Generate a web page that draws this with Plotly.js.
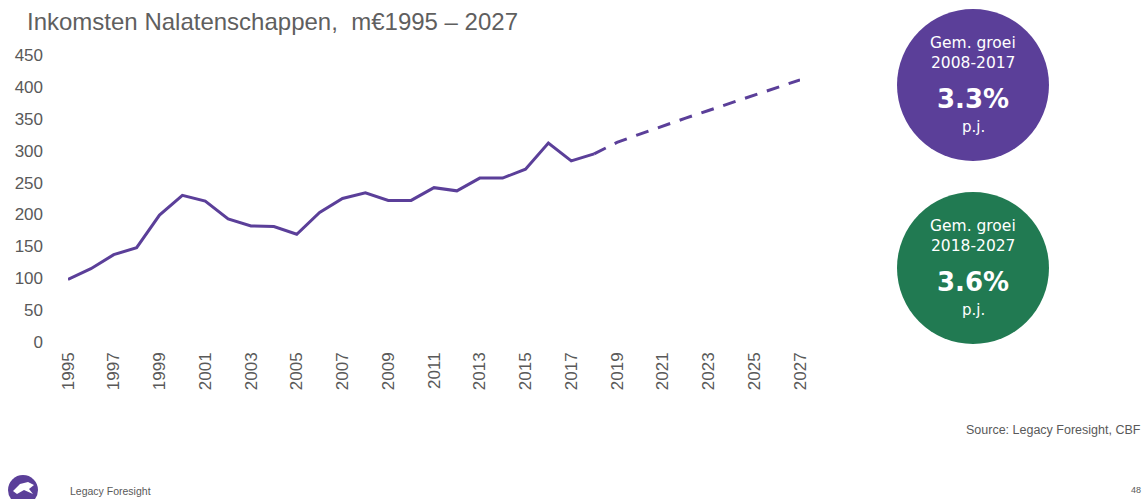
<!DOCTYPE html>
<html>
<head>
<meta charset="utf-8">
<script src="https://cdn.plot.ly/plotly-3.0.1.min.js"></script>
<style>html,body{margin:0;padding:0;background:#fff;}#chart{width:1146px;height:499px;}</style>
</head>
<body>
<div id="chart"></div>
<script>
// Data
const actualYears = [1995,1996,1997,1998,1999,2000,2001,2002,2003,2004,2005,2006,2007,2008,2009,2010,2011,2012,2013,2014,2015,2016,2017,2018];
const actualValues = [98,115,137,148,199,230,221,193,182,181,169,203,225,234,222,222,242,237,257,257,271,312,284,295];
const forecastYears = [2018,2019,2020,2021,2022,2023,2024,2025,2026,2027];
const forecastValues = [295,313,326,339,351,363,375,387,399,411];
const yTickValues = [0,50,100,150,200,250,300,350,400,450];
const xTickValues = [1995,1997,1999,2001,2003,2005,2007,2009,2011,2013,2015,2017,2019,2021,2023,2025,2027];
const titleText = "Inkomsten Nalatenschappen,  m€1995 – 2027";
const circle1Lines = ["Gem. groei","2008-2017","3.3%","p.j."];
const circle2Lines = ["Gem. groei","2018-2027","3.6%","p.j."];
const sourceText = "Source: Legacy Foresight, CBF";
const footerText = "Legacy Foresight";
const pageNumber = "48";

const purple = "#5B3F99";
const green = "#217A52";
const grey = "#595959";

const traces = [
  {x: actualYears, y: actualValues, type: 'scatter', mode: 'lines',
   line: {color: purple, width: 3}, hoverinfo: 'skip'},
  {x: forecastYears, y: forecastValues, type: 'scatter', mode: 'lines',
   line: {color: purple, width: 3, dash: '13px,10px'}, hoverinfo: 'skip'}
];

function circleText(lines, cy) {
  const fam = "DejaVu Sans, Verdana, sans-serif";
  const offs = [-42, -22, 14, 42];
  const sizes = [15.5, 15.5, 26, 15];
  return lines.map((t, i) => ({
    text: i === 2 ? '<b>' + t + '</b>' : t,
    xref: 'paper', yref: 'paper', showarrow: false,
    x: 0, y: 0, _px: 973, _py: cy + offs[i],
    font: {family: fam, size: sizes[i], color: '#ffffff'},
    xanchor: 'center', yanchor: 'middle'
  }));
}

const W = 1146, H = 499;
const m = {l: 68, r: 346, t: 55, b: 157};
const pw = W - m.l - m.r, ph = H - m.t - m.b;
function px2x(px) { return (px - m.l) / pw; }
function py2y(py) { return (H - m.b - py) / ph; }

let anns = [];
circleText(circle1Lines, 85).concat(circleText(circle2Lines, 268)).forEach(a => {
  a.x = px2x(a._px); a.y = py2y(a._py); delete a._px; delete a._py; anns.push(a);
});
anns.push({text: sourceText, xref: 'paper', yref: 'paper', x: px2x(1143), y: py2y(430),
  xanchor: 'right', yanchor: 'middle', showarrow: false,
  font: {family: 'Liberation Sans, Arial, sans-serif', size: 12.5, color: grey}});
anns.push({text: pageNumber, xref: 'paper', yref: 'paper', x: px2x(1143), y: py2y(490),
  xanchor: 'right', yanchor: 'middle', showarrow: false,
  font: {family: 'Liberation Sans, Arial, sans-serif', size: 9, color: grey}});
anns.push({text: footerText, xref: 'paper', yref: 'paper', x: px2x(68), y: py2y(491),
  xanchor: 'left', yanchor: 'middle', showarrow: false,
  font: {family: 'Liberation Sans, Arial, sans-serif', size: 10.5, color: grey}});

const shapes = [
  {type: 'circle', xref: 'paper', yref: 'paper', x0: px2x(897), x1: px2x(1049), y0: py2y(161), y1: py2y(9),
   fillcolor: purple, line: {width: 0}, layer: 'below'},
  {type: 'circle', xref: 'paper', yref: 'paper', x0: px2x(897), x1: px2x(1049), y0: py2y(344), y1: py2y(192),
   fillcolor: green, line: {width: 0}, layer: 'below'},
  {type: 'circle', xref: 'paper', yref: 'paper', x0: px2x(8), x1: px2x(38), y0: py2y(505), y1: py2y(475),
   fillcolor: purple, line: {width: 0}, layer: 'below'},
  {type: 'path', xref: 'paper', yref: 'paper',
   path: 'M ' + px2x(13) + ' ' + py2y(491) + ' L ' + px2x(20) + ' ' + py2y(484) + ' L ' + px2x(28) + ' ' + py2y(482) +
         ' L ' + px2x(34) + ' ' + py2y(485) + ' L ' + px2x(29) + ' ' + py2y(489) + ' L ' + px2x(33) + ' ' + py2y(494) +
         ' L ' + px2x(24) + ' ' + py2y(490) + ' L ' + px2x(17) + ' ' + py2y(494) + ' Z',
   fillcolor: '#ffffff', line: {width: 0}}
];

const layout = {
  width: W, height: H,
  margin: m,
  paper_bgcolor: '#ffffff', plot_bgcolor: '#ffffff',
  showlegend: false,
  title: {text: titleText, xref: 'container', yref: 'container', x: 27 / W, xanchor: 'left',
          y: 1 - 22 / H, yanchor: 'middle',
          font: {family: 'Liberation Sans, Arial, sans-serif', size: 24, color: '#5f5f5f'}},
  xaxis: {range: [1995, 2027], tickvals: xTickValues, ticktext: xTickValues.map(String),
          tickangle: -90, showgrid: false, zeroline: false, showline: false, ticks: '',
          ticklabelstandoff: 6,
          tickfont: {family: 'Liberation Sans, Arial, sans-serif', size: 17, color: grey}, fixedrange: true},
  yaxis: {range: [0, 450], tickvals: yTickValues, ticktext: yTickValues.map(String),
          showgrid: false, zeroline: false, showline: false, ticks: '',
          ticklabelstandoff: 24,
          tickfont: {family: 'Liberation Sans, Arial, sans-serif', size: 17, color: grey}, fixedrange: true},
  annotations: anns,
  shapes: shapes
};

Plotly.newPlot('chart', traces, layout, {displayModeBar: false, staticPlot: true});
</script>
</body>
</html>
